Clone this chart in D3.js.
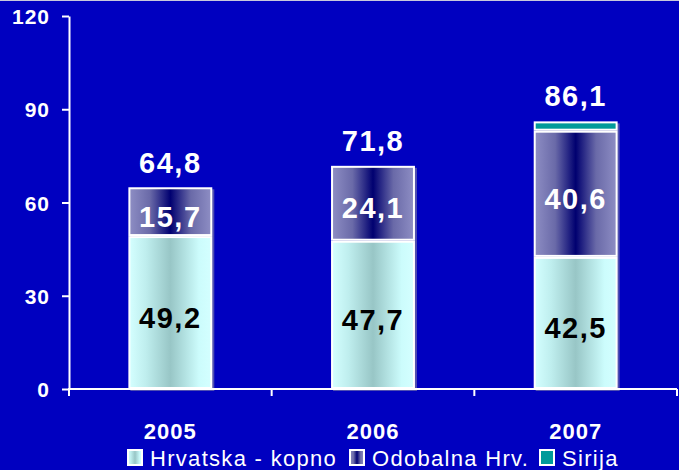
<!DOCTYPE html>
<html>
<head>
<meta charset="utf-8">
<style>
  body { margin: 0; background: #0000c0; }
  svg { display: block; font-family: Arial, "Liberation Sans", sans-serif; }
</style>
</head>
<body>
<svg id="svg"></svg>
<script src="https://d3js.org/d3.v7.min.js"></script>
<script>
const years = ["2005", "2006", "2007"];
const kopno = [49.2, 47.7, 42.5];
const odobalna = [15.7, 24.1, 40.6];
const sirija = [0, 0, 3.0];
const totals = [64.8, 71.8, 86.1];
const seriesNames = ["Hrvatska - kopno", "Odobalna Hrv.", "Sirija"];
const yTicks = [0, 30, 60, 90, 120];

const width = 679, height = 470;
const svg = d3.select("#svg").attr("width", width).attr("height", height);

svg.append("rect").attr("width", width).attr("height", height).attr("fill", "#0000c0");
svg.append("line").attr("x1", 0).attr("x2", width).attr("y1", 0.5).attr("y2", 0.5)
  .attr("stroke", "#c8c8dc").attr("stroke-width", 1);

const defs = svg.append("defs");
function grad(id, stops) {
  const g = defs.append("linearGradient").attr("id", id)
    .attr("x1", "0%").attr("x2", "100%").attr("y1", "0%").attr("y2", "0%");
  stops.forEach(s => g.append("stop").attr("offset", s[0]).attr("stop-color", s[1]));
}
grad("gLight", [[0, "#d4ffff"], [0.2, "#bfeeee"], [0.5, "#98c6c6"], [0.85, "#ccfcfc"], [1, "#d4ffff"]]);
grad("gDark", [[0, "#8e8ec4"], [0.25, "#6a6aa8"], [0.5, "#000070"], [0.75, "#6a6aa8"], [1, "#8e8ec4"]]);

const fills = ["url(#gLight)", "url(#gDark)", "#009a9a"];

const x = d3.scaleBand().domain(years).range([69, 677])
  .paddingInner(0.586).paddingOuter(0.293);
const y = d3.scaleLinear().domain([0, 120]).range([389, 16]);

const rows = years.map((yr, i) => ({ year: yr, kopno: kopno[i], odobalna: odobalna[i], sirija: sirija[i], total: totals[i] }));
const stack = d3.stack().keys(["kopno", "odobalna", "sirija"])(rows);

// shadows
svg.append("g").selectAll("rect").data(rows).join("rect")
  .attr("x", d => x(d.year) + 2)
  .attr("y", d => y(d.kopno + d.odobalna + d.sirija) + 2)
  .attr("width", x.bandwidth())
  .attr("height", d => y(0) - y(d.kopno + d.odobalna + d.sirija))
  .attr("fill", "#5050b0");

stack.forEach((layer, li) => {
  svg.append("g").selectAll("rect").data(layer.filter(d => d[1] > d[0])).join("rect")
    .attr("x", d => x(d.data.year) + 1)
    .attr("y", d => y(d[1]) + 1)
    .attr("width", x.bandwidth() - 2)
    .attr("height", d => y(d[0]) - y(d[1]) - 2)
    .attr("fill", fills[li])
    .attr("stroke", "#ffffff")
    .attr("stroke-width", 2);
});

// axes
const yAxis = svg.append("g").attr("transform", "translate(69,0)")
  .call(d3.axisLeft(y).tickValues(yTicks).tickSize(7).tickPadding(12).tickSizeOuter(0));
yAxis.select(".domain").attr("stroke", "#fff").attr("stroke-width", 2);
yAxis.selectAll(".tick line").attr("stroke", "#fff").attr("stroke-width", 2);
yAxis.selectAll(".tick text").attr("fill", "#fff").attr("font-size", 21)
  .attr("font-weight", "bold").attr("letter-spacing", 1).attr("dy", "0.36em");

const xAxis = svg.append("g").attr("transform", "translate(0,389)")
  .call(d3.axisBottom(x).tickSize(0).tickPadding(34));
xAxis.select(".domain").remove();
xAxis.selectAll(".tick text").attr("fill", "#fff").attr("font-size", 22)
  .attr("font-weight", "bold").attr("letter-spacing", 1);
xAxis.append("line").attr("x1", 68).attr("x2", 677).attr("y1", 0).attr("y2", 0)
  .attr("stroke", "#fff").attr("stroke-width", 2);
const bounds = [0, 1, 2, 3].map(i => x.range()[0] + i * x.step());
xAxis.selectAll(".bt").data(bounds).join("line").attr("class", "bt")
  .attr("x1", d => d).attr("x2", d => d).attr("y1", 0).attr("y2", 7)
  .attr("stroke", "#fff").attr("stroke-width", 2);

// segment labels
const lbl = svg.append("g").attr("font-size", 29).attr("font-weight", "bold")
  .attr("letter-spacing", 1.5).attr("text-anchor", "middle");
stack.slice(0, 2).forEach((layer, li) => {
  lbl.selectAll(null).data(layer).join("text")
    .attr("x", d => x(d.data.year) + x.bandwidth() / 2)
    .attr("y", d => (y(d[0]) + y(d[1])) / 2 + 15)
    .attr("fill", li === 0 ? "#000" : "#fff")
    .text(d => d3.format(".1f")(d[1] - d[0]).replace(".", ","));
});
lbl.selectAll(null).data(rows).join("text")
  .attr("x", d => x(d.year) + x.bandwidth() / 2)
  .attr("y", d => y(d.total) - 15)
  .attr("fill", "#fff")
  .text(d => d3.format(".1f")(d.total).replace(".", ","));

// legend
const legX = [128, 350, 540];
const leg = svg.append("g");
seriesNames.forEach((name, i) => {
  leg.append("rect").attr("x", legX[i]).attr("y", 450).attr("width", 14).attr("height", 15)
    .attr("fill", fills[i]).attr("stroke", "#fff").attr("stroke-width", 2);
  leg.append("text").attr("x", legX[i] + 22).attr("y", 466)
    .attr("fill", "#fff").attr("font-size", 22).attr("letter-spacing", 1.3)
    .text(name);
});
</script>
</body>
</html>
